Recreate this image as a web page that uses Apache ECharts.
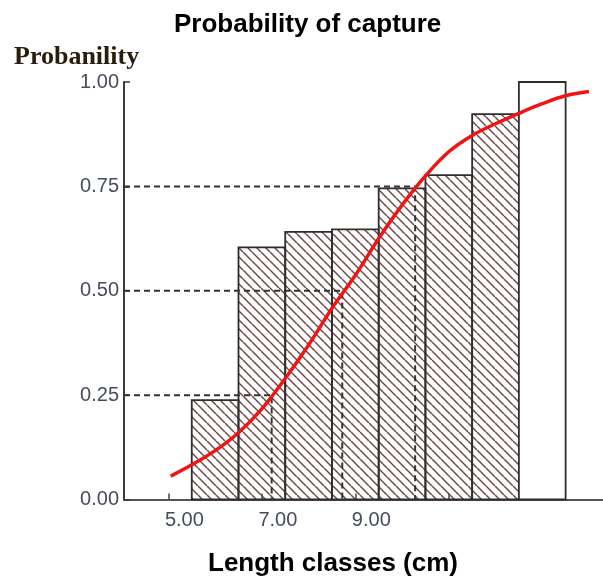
<!DOCTYPE html>
<html><head><meta charset="utf-8">
<script src="https://cdn.jsdelivr.net/npm/echarts@6/dist/echarts.min.js"></script>
<style>html,body{margin:0;padding:0;background:#fff}#c{width:603px;height:577px}</style>
</head><body><div id="c"></div>
<script>
// ---- data ----
const classStart   = [5.5, 6.5, 7.5, 8.5, 9.5, 10.5, 11.5, 12.5];
const classEnd     = [6.5, 7.5, 8.5, 9.5, 10.5, 11.5, 12.5, 13.5];
const observedProb = [0.238, 0.604, 0.641, 0.647, 0.745, 0.777, 0.923, 1.00];
const hatched      = [true, true, true, true, true, true, true, false];
const curveX = [5.05, 5.5, 6.0, 6.5, 7.0, 7.5, 8.0, 8.5, 9.0, 9.5, 10.0, 10.5, 11.0, 11.5, 12.0, 12.5, 13.0, 13.5, 14.0];
const curveY = [0.056, 0.083, 0.117, 0.160, 0.217, 0.290, 0.370, 0.458, 0.537, 0.625, 0.705, 0.775, 0.833, 0.872, 0.900, 0.925, 0.948, 0.967, 0.977];
const refLevels  = [0.25, 0.50, 0.75];
const refLengths = [7.21, 8.72, 10.28];
const xLabelValues = [5, 7, 9];
const xTickValues  = [5, 7, 9, 11, 13];

const X_MIN = 4.05, X_MAX = 14.3;

// hatch pattern
const tile = document.createElement('canvas');
tile.width = 9; tile.height = 9;
(function(){
  const g = tile.getContext('2d');
  g.strokeStyle = '#6e4848';
  g.lineWidth = 1.5;
  [-9, 0, 9].forEach(k => { g.beginPath(); g.moveTo(k, 0); g.lineTo(k + 9, 9); g.stroke(); });
})();
const hatchFill = { image: tile, repeat: 'repeat' };

const barData = classStart.map((s, i) => [s, classEnd[i], observedProb[i], hatched[i] ? 1 : 0]);
const curveData = curveX.map((x, i) => [x, curveY[i]]);

const dashSeries = refLevels.map((lv, i) => ({
  type: 'line', silent: true, symbol: 'none', z: 4, animation: false,
  data: [[X_MIN, lv], [refLengths[i], lv], [refLengths[i], 0]],
  lineStyle: { color: '#333', width: 2, type: [6, 4] }
}));

const chart = echarts.init(document.getElementById('c'), null, { renderer: 'canvas' });
chart.setOption({
  animation: false,
  backgroundColor: '#fff',
  title: [
    { text: 'Probability of capture', left: 169, top: 7,
      textStyle: { fontFamily: 'Liberation Sans, Arial', fontWeight: 'bold', fontSize: 26, color: '#000' } },
    { text: 'Probanility', left: 9, top: 39,
      textStyle: { fontFamily: 'Liberation Serif, Times New Roman', fontWeight: 'bold', fontSize: 26, color: '#2b1d0e' } },
    { text: 'Length classes (cm)', left: 203, top: 546,
      textStyle: { fontFamily: 'Liberation Sans, Arial', fontWeight: 'bold', fontSize: 26, color: '#000' } }
  ],
  grid: { left: 124, right: 0, top: 82, bottom: 77.5, containLabel: false },
  xAxis: {
    type: 'value', min: X_MIN, max: X_MAX,
    splitLine: { show: false },
    axisLine: { show: true, onZero: false, lineStyle: { color: '#555', width: 2 } },
    axisTick: { show: true, inside: true, length: 6, customValues: xTickValues, lineStyle: { color: '#444', width: 1.5 } },
    axisLabel: {
      customValues: xLabelValues, margin: 11,
      formatter: v => '{a|' + v.toFixed(2) + '}',
      rich: { a: { padding: [0, 0, 0, 32], fontFamily: 'Liberation Sans, Arial', fontSize: 20, color: '#474c5c' } }
    }
  },
  yAxis: {
    type: 'value', min: 0, max: 1, interval: 0.25,
    splitLine: { show: false },
    axisLine: { show: true, lineStyle: { color: '#3a3a3a', width: 2 } },
    axisTick: { show: true, inside: true, length: 6, lineStyle: { color: '#3a3a3a', width: 1.5 } },
    axisLabel: { margin: 5, formatter: v => v.toFixed(2), fontFamily: 'Liberation Sans, Arial', fontSize: 20, color: '#474c5c' }
  },
  series: [
    {
      type: 'custom', z: 2, silent: true,
      data: barData,
      renderItem: (params, api) => {
        const tl = api.coord([api.value(0), api.value(2)]);
        const br = api.coord([api.value(1), 0]);
        return {
          type: 'rect',
          shape: { x: tl[0], y: tl[1], width: br[0] - tl[0], height: br[1] - tl[1] },
          style: { fill: api.value(3) ? hatchFill : '#fff', stroke: '#2e2e2e', lineWidth: 1.8 }
        };
      }
    },
    ...dashSeries,
    {
      type: 'line', z: 6, silent: true, symbol: 'none', smooth: 0.4,
      data: curveData,
      lineStyle: { color: '#f01515', width: 3.5 }
    }
  ]
});
</script></body></html>
